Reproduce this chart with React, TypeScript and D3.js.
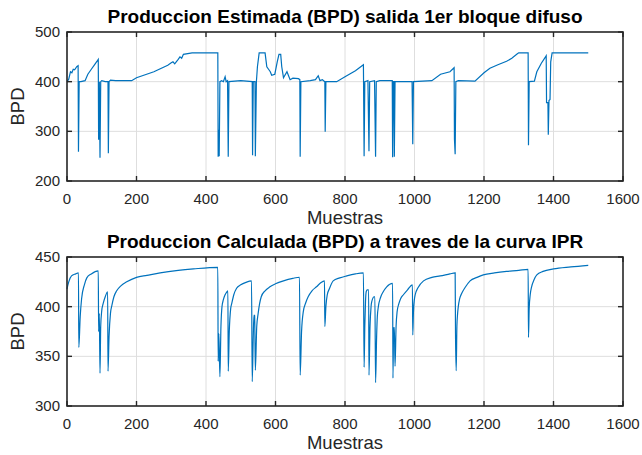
import * as d3 from "d3";

// Producción estimada (salida 1er bloque difuso): muestras / BPD
const estX = [0, 5, 10, 14, 18, 22, 28, 32, 33, 35, 40, 52, 60, 70, 80, 90, 91, 93, 95, 97, 100, 110, 118, 119, 121, 125, 140, 186, 200, 250, 290, 300, 305, 310, 320, 325, 330, 335, 360, 434, 435, 437, 438, 440, 445, 450, 455, 458, 462, 464, 466, 500, 533, 534, 536, 541, 542, 545, 548, 553, 570, 575, 580, 585, 589, 598, 605, 610, 615, 618, 623, 633, 642, 650, 666, 670, 671, 673, 700, 715, 723, 728, 735, 742, 743, 745, 776, 800, 830, 853, 855, 857, 866, 869, 871, 885, 888, 890, 900, 936, 937, 939, 941, 942, 944, 993, 995, 997, 1050, 1075, 1102, 1114, 1115, 1117, 1119, 1126, 1174, 1200, 1217, 1240, 1265, 1280, 1296, 1300, 1327, 1328, 1330, 1345, 1352, 1365, 1379, 1380, 1384, 1385, 1387, 1390, 1392, 1396, 1500];
const estY = [400, 405, 420, 418, 425, 424, 430, 432, 259, 400, 400, 402, 415, 425, 435, 445, 283, 400, 247, 400, 402, 400, 400, 256, 400, 403, 402, 402, 408, 420, 433, 438, 440, 436, 445, 450, 447, 455, 458, 458, 249, 303, 250, 400, 402, 400, 410, 400, 402, 249, 400, 402, 400, 252, 400, 400, 250, 400, 430, 458, 458, 430, 425, 420, 413, 415, 440, 455, 455, 430, 408, 420, 404, 407, 406, 404, 249, 400, 402, 404, 412, 402, 404, 400, 299, 400, 400, 410, 422, 434, 250, 400, 402, 260, 400, 402, 249, 400, 402, 402, 248, 400, 400, 249, 400, 400, 274, 400, 402, 415, 420, 428, 284, 254, 400, 402, 401, 418, 427, 434, 441, 447, 456, 458, 458, 272, 400, 401, 420, 437, 452, 358, 358, 293, 362, 364, 440, 458, 458];

// Producción calculada con la curva IPR
const ipcX = [0, 5, 13, 25, 33, 34, 38, 42, 50, 57, 70, 90, 91, 93, 95, 97, 100, 104, 110, 117, 118, 121, 125, 129, 135, 143, 155, 172, 200, 230, 268, 320, 364, 434, 435, 437, 440, 443, 446, 450, 455, 460, 463, 464, 467, 471, 474, 480, 488, 500, 515, 531, 533, 536, 538, 540, 542, 546, 550, 559, 570, 584, 600, 623, 650, 669, 671, 675, 680, 687, 694, 705, 718, 730, 741, 742, 745, 749, 755, 766, 785, 805, 830, 853, 855, 857, 859, 861, 864, 868, 869, 872, 875, 877, 884, 886, 888, 891, 893, 896, 902, 910, 920, 937, 938, 940, 942, 944, 947, 950, 955, 960, 968, 980, 994, 995, 997, 1000, 1002, 1010, 1026, 1050, 1074, 1102, 1117, 1118, 1120, 1122, 1124, 1126, 1130, 1136, 1145, 1160, 1180, 1198, 1230, 1265, 1300, 1327, 1328, 1330, 1333, 1337, 1344, 1352, 1370, 1400, 1450, 1500];
const ipcY = [418, 425, 431, 433, 434, 359, 390, 408, 422, 429, 433, 436, 375, 393, 333, 380, 396, 403, 410, 415, 335, 370, 393, 401, 410, 416, 421, 425, 429.5, 431.5, 434, 436.5, 438, 439.6, 345, 373, 329.5, 380, 400, 407, 412, 415, 416, 335, 375, 398, 403, 412, 418.5, 422, 424.5, 426, 324.5, 370, 391.6, 391, 336, 380, 393, 410, 416, 420, 423, 426, 428.5, 429.6, 331, 375, 395, 404, 410, 416, 420, 424, 426, 380, 400, 412, 418, 426, 429, 431, 433, 434, 339, 380, 405, 415, 417, 417, 331, 380, 400, 405, 410, 410, 323.5, 370, 390, 400, 409, 415, 420, 423.5, 328, 379, 379, 340, 380, 395, 403, 408, 412, 417, 422, 371.5, 395, 408, 412, 419, 426, 429.5, 431, 433, 434, 373, 335.5, 380, 393, 400, 408, 413.5, 419, 426, 429.5, 432, 434, 435.5, 436.5, 437.6, 369, 398, 412, 420, 427, 432, 435.5, 438, 440, 441.6];

const xTicks = [0, 200, 400, 600, 800, 1000, 1200, 1400, 1600];
const yTicksTop = [200, 300, 400, 500];
const yTicksBottom = [300, 350, 400, 450];

const FONT = "'Liberation Sans', Arial, Helvetica, sans-serif";
const INK = "#262626";
const LINE = "#0072BD";

type PanelProps = {
  title: string;
  xs: number[];
  ys: number[];
  yDomain: [number, number];
  yTicks: number[];
  top: number;
  smooth?: boolean;
};

function Panel({ title, xs, ys, yDomain, yTicks, top, smooth }: PanelProps) {
  const left = 67;
  const right = 623;
  const h = 149;
  const bottom = top + h;

  const x = d3.scaleLinear().domain([0, 1600]).range([left, right]);
  const y = d3.scaleLinear().domain(yDomain).range([bottom, top]);

  const pts = xs.map((v, i) => [v, ys[i]] as [number, number]);
  const line = d3
    .line<[number, number]>()
    .x((d) => x(d[0]))
    .y((d) => y(d[1]))
    .curve(smooth ? d3.curveMonotoneX : d3.curveLinear);

  const tick = 5;

  return (
    <g>
      {/* grid */}
      {xTicks.slice(1, -1).map((t) => (
        <line key={"gx" + t} x1={x(t)} x2={x(t)} y1={top} y2={bottom} stroke="#dedede" strokeWidth={1} />
      ))}
      {yTicks.slice(1, -1).map((t) => (
        <line key={"gy" + t} x1={left} x2={right} y1={y(t)} y2={y(t)} stroke="#dedede" strokeWidth={1} />
      ))}

      <path d={line(pts) ?? ""} fill="none" stroke={LINE} strokeWidth={1.2} />

      {/* box + ticks */}
      <rect x={left} y={top} width={right - left} height={h} fill="none" stroke={INK} strokeWidth={1.6} />
      {xTicks.map((t) => (
        <g key={"tx" + t}>
          <line x1={x(t)} x2={x(t)} y1={bottom} y2={bottom - tick} stroke={INK} strokeWidth={1.4} />
          <line x1={x(t)} x2={x(t)} y1={top} y2={top + tick} stroke={INK} strokeWidth={1.4} />
          <text x={x(t)} y={bottom + 23} textAnchor="middle" fontSize={15} fill={INK}>
            {t}
          </text>
        </g>
      ))}
      {yTicks.map((t) => (
        <g key={"ty" + t}>
          <line x1={left} x2={left + tick} y1={y(t)} y2={y(t)} stroke={INK} strokeWidth={1.4} />
          <line x1={right} x2={right - tick} y1={y(t)} y2={y(t)} stroke={INK} strokeWidth={1.4} />
          <text x={left - 7} y={y(t) + 5} textAnchor="end" fontSize={15} fill={INK}>
            {t}
          </text>
        </g>
      ))}

      <text x={(left + right) / 2} y={top - 9} textAnchor="middle" fontSize={19} fontWeight="bold" fill="#000">
        {title}
      </text>
      <text x={(left + right) / 2} y={bottom + 43} textAnchor="middle" fontSize={18.5} fill={INK}>
        Muestras
      </text>
      <text
        transform={`translate(${24},${(top + bottom) / 2}) rotate(-90)`}
        textAnchor="middle"
        fontSize={18.5}
        fill={INK}
      >
        BPD
      </text>
    </g>
  );
}

export default function App() {
  return (
    <svg
      width={642}
      height={455}
      style={{ position: "absolute", left: 0, top: 0, background: "#fff", fontFamily: FONT }}
    >
      <rect width={642} height={455} fill="#fff" />
      <Panel
        title="Produccion Estimada (BPD) salida 1er bloque difuso"
        xs={estX}
        ys={estY}
        yDomain={[200, 500]}
        yTicks={yTicksTop}
        top={32}
      />
      <Panel
        title="Produccion Calculada (BPD) a traves de la curva IPR"
        xs={ipcX}
        ys={ipcY}
        yDomain={[300, 450]}
        yTicks={yTicksBottom}
        top={257}
        smooth
      />
    </svg>
  );
}
